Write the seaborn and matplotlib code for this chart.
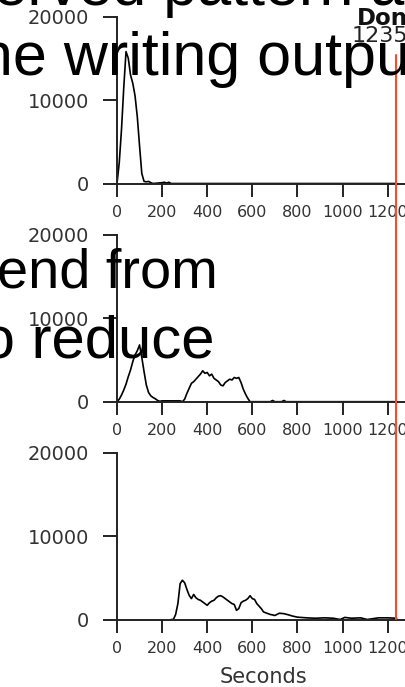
import matplotlib
matplotlib.use("Agg")
import matplotlib.pyplot as plt
import matplotlib.transforms as mtransforms
from matplotlib.lines import Line2D
import seaborn as sns

# histogram counts per time bin
seconds_1 = [0, 10, 20, 30, 40, 50, 60, 70, 80, 90, 100, 110, 120, 130, 140, 150, 160,
             200, 210, 220, 230, 240, 1240]
counts_1 = [0, 2500, 6500, 11500, 15800, 15000, 13000, 12000, 10500, 8000, 4500, 1200,
            250, 200, 250, 100, 0, 100, 150, 50, 150, 0, 0]

seconds_2 = [0, 10, 20, 30, 40, 50, 60, 70, 80, 90, 100, 110, 120, 130, 140, 150, 160,
             170, 180, 190, 200, 280, 290,
             300, 310, 320, 330, 340, 350, 360, 370, 380, 390, 400, 410, 420, 430, 440,
             450, 460, 470, 480, 490, 500, 510, 520, 530, 540, 550, 560, 570, 580, 590,
             680, 690, 700, 730, 740, 750, 1240]
counts_2 = [0, 300, 800, 1400, 2100, 3000, 3800, 4800, 5600, 6100, 6800, 5300, 3600,
            2000, 1100, 700, 500, 350, 150, 50, 100, 100, 0,
            300, 1000, 1600, 2200, 2400, 2700, 3000, 3300, 3700, 3400, 3500, 3100, 3300,
            2800, 2600, 2400, 2000, 1900, 2300, 2500, 2700, 2600, 2900, 2800, 2900, 2300,
            1500, 900, 400, 0,
            0, 150, 0, 0, 150, 0, 0]

seconds_3 = [240, 250, 260, 270, 280, 290, 300, 310, 320, 330,
             340, 350, 360, 370, 380, 390, 400, 410, 420, 430,
             440, 450, 460, 470, 480, 490, 500, 510, 520, 530,
             540, 550, 560, 570, 580, 590, 600, 610, 620, 630,
             640, 650, 660, 670, 680, 690, 700,
             720, 740, 760, 780, 800,
             840, 880, 920, 960,
             990, 1010, 1040, 1080, 1110, 1160, 1200, 1240]
counts_3 = [0, 0, 600, 1900, 4300, 4700, 4400, 3600, 2900, 2500,
            3000, 2600, 2400, 2300, 2100, 1900, 1700, 2000, 2200, 2300,
            2600, 2800, 2850, 2700, 2500, 2300, 2100, 1900, 1800, 1100,
            1300, 2000, 2200, 2300, 2500, 2850, 2500, 2400, 1900, 1600,
            1300, 900, 800, 700, 600, 550, 480,
            750, 700, 560, 400, 280,
            200, 150, 200, 150,
            0, 250, 150, 200, 0, 200, 200, 150]

x_ticks = [0, 200, 400, 600, 800, 1000, 1200]
y_ticks = [0, 10000, 20000]
marker_second = 1237

# big overlay text: text, left px, baseline px, size px
overlay_text = ["observed pattern a", "the writing output", "end from", "to reduce"]
overlay_x = [-105, -38, -3, -35]
overlay_y = [5, 75, 288, 357]
overlay_px = [61, 61, 56, 60]

W, H = 405, 687
sns.set_style("ticks")
plt.rcParams['font.family'] = ['DejaVu Sans']

fig = plt.figure(figsize=(W / 100, H / 100), dpi=100)

panel_tops = [16.5, 234.7, 452.5]
panel_h = 167
left_px = 117
px_per_sec = 0.2255
x_max = 1300

axes = []
data = [(seconds_1, counts_1), (seconds_2, counts_2), (seconds_3, counts_3)]
for top, (t, c) in zip(panel_tops, data):
    ax = fig.add_axes([left_px / W, 1 - (top + panel_h) / H,
                       x_max * px_per_sec / W, panel_h / H])
    sns.lineplot(x=t, y=c, ax=ax, color='black', linewidth=1.2, sort=False,
                 estimator=None)
    ax.set_xlim(0, x_max)
    ax.set_ylim(0, 20000)
    ax.set_xticks(x_ticks)
    ax.set_yticks(y_ticks)
    ax.set_xticklabels([str(v) for v in x_ticks], fontsize=11.5, color='#333333')
    ax.set_yticklabels([str(v) for v in y_ticks], fontsize=14, color='#333333')
    ax.tick_params(axis='y', length=10, width=1.4, pad=10, color='#222222')
    ax.tick_params(axis='x', length=9.5, width=1.4, pad=6, color='#222222')
    for s in ['top', 'right']:
        ax.spines[s].set_visible(False)
    for s in ['left', 'bottom']:
        ax.spines[s].set_linewidth(1.4)
        ax.spines[s].set_color('#222222')
    ax.set_xlabel('')
    ax.set_ylabel('')
    axes.append(ax)

axes[-1].set_xlabel('Seconds', fontsize=15, color='#333333', labelpad=8)

# red marker line running through all three panels
trans = mtransforms.blended_transform_factory(axes[-1].transData, fig.transFigure)
fig.add_artist(Line2D([marker_second, marker_second], [1 - 619 / H, 1 - 55 / H],
                      transform=trans, color='#ff4a2a', linewidth=1.5))

# small label at the top right
fig.text(357 / W, 1 - 25 / H, 'Done', fontsize=16.5, fontweight='bold',
         va='baseline', ha='left', color='#111111')
fig.text(352 / W, 1 - 42 / H, '12350', fontsize=16, va='baseline', ha='left',
         color='#222222')

for s, x, y, px in zip(overlay_text, overlay_x, overlay_y, overlay_px):
    fig.text(x / W, 1 - y / H, s, fontsize=px * 0.72, family=['Liberation Sans'],
             va='baseline', ha='left', color='black', zorder=10)

fig.savefig('out.png', dpi=100)
